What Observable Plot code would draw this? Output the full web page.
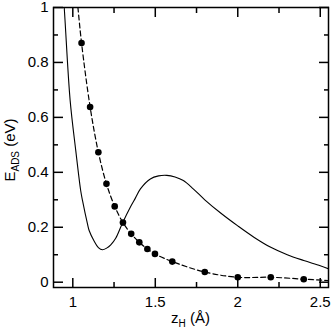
<!DOCTYPE html>
<html><head><meta charset="utf-8">
<script src="https://cdn.jsdelivr.net/npm/d3@7"></script>
<script src="https://cdn.jsdelivr.net/npm/@observablehq/plot@0.6"></script>
<style>body{margin:0;background:#fff}</style>
</head><body><div id="chart"></div>
<script>
// tick values
const xMajor = [1, 1.5, 2, 2.5];
const xMinor = [1.25, 1.75, 2.25];
const yMajor = [0, 0.2, 0.4, 0.6, 0.8, 1];
const yMinor = [0.1, 0.3, 0.5, 0.7, 0.9];

// solid curve (model potential)
const solidX = [0.942, 0.953, 0.984, 1.018, 1.048, 1.059, 1.089, 1.099, 1.129, 1.155, 1.18, 1.205, 1.23, 1.26, 1.30, 1.35, 1.38, 1.41, 1.47, 1.52, 1.57, 1.62, 1.67, 1.73, 1.80, 1.90, 2.00, 2.10, 2.20, 2.30, 2.40, 2.50, 2.55];
const solidY = [1.06, 0.952, 0.661, 0.479, 0.333, 0.297, 0.212, 0.188, 0.150, 0.126, 0.118, 0.124, 0.136, 0.160, 0.214, 0.275, 0.307, 0.340, 0.376, 0.387, 0.389, 0.383, 0.370, 0.340, 0.300, 0.250, 0.205, 0.163, 0.127, 0.100, 0.079, 0.060, 0.049];

// computed points (dots)
const dotX = [1.053, 1.105, 1.155, 1.204, 1.254, 1.304, 1.354, 1.403, 1.452, 1.498, 1.603, 1.80, 2.00, 2.20, 2.40];
const dotY = [0.871, 0.638, 0.473, 0.358, 0.276, 0.217, 0.176, 0.145, 0.121, 0.103, 0.075, 0.037, 0.018, 0.018, 0.011];

// dashed fit extends beyond the first and last dots
const fitStartX = [1.026, 1.031], fitStartY = [1.03, 1.0];
const fitEndX = [2.55], fitEndY = [0.006];

const solid = solidX.map((x, i) => ({x, y: solidY[i]}));
const dots = dotX.map((x, i) => ({x, y: dotY[i]}));
const dashed = [
  ...fitStartX.map((x, i) => ({x, y: fitStartY[i]})),
  ...dots,
  ...fitEndX.map((x, i) => ({x, y: fitEndY[i]}))
];

const fmt = d => String(d);
const none = () => "";

const plot = Plot.plot({
  width: 332, height: 330,
  marginLeft: 53, marginRight: 4, marginTop: 7, marginBottom: 43,
  style: {fontFamily: "'Liberation Sans', Arial, sans-serif", fontSize: "15px", color: "#000", background: "#fff"},
  x: {domain: [0.883, 2.55]},
  y: {domain: [-0.0193, 1]},
  marks: [
    Plot.line(solid, {x: "x", y: "y", curve: "catmull-rom", stroke: "#000", strokeWidth: 1.1, clip: true}),
    Plot.line(dashed, {x: "x", y: "y", curve: "catmull-rom", stroke: "#000", strokeWidth: 1.2, strokeDasharray: "5,3", clip: true}),
    Plot.dot(dots, {x: "x", y: "y", r: 3.3, fill: "#000", stroke: "none"}),
    Plot.axisX(xMajor, {anchor: "bottom", tickSize: -9, tickPadding: 18, tickFormat: fmt, label: null, strokeWidth: 1.5}),
    Plot.axisX(xMinor, {anchor: "bottom", tickSize: -5, tickFormat: none, label: null, strokeWidth: 1.5}),
    Plot.axisX(xMajor, {anchor: "top", tickSize: -9, tickFormat: none, label: null, strokeWidth: 1.5}),
    Plot.axisX(xMinor, {anchor: "top", tickSize: -5, tickFormat: none, label: null, strokeWidth: 1.5}),
    Plot.axisY(yMajor, {anchor: "left", tickSize: -10, tickPadding: 15, tickFormat: fmt, label: null, strokeWidth: 1.5}),
    Plot.axisY(yMinor, {anchor: "left", tickSize: -5, tickFormat: none, label: null, strokeWidth: 1.5}),
    Plot.axisY(yMajor, {anchor: "right", tickSize: -10, tickFormat: none, label: null, strokeWidth: 1.5}),
    Plot.axisY(yMinor, {anchor: "right", tickSize: -5, tickFormat: none, label: null, strokeWidth: 1.5}),
    Plot.frame({stroke: "#000", strokeWidth: 1.5})
  ]
});

const svg = d3.select(plot);
const xr = plot.scale("x").range, yr = plot.scale("y").range;
const cx = (xr[0] + xr[1]) / 2, cy = (yr[0] + yr[1]) / 2;

const xl = svg.append("text")
  .attr("x", cx).attr("y", 323)
  .attr("text-anchor", "middle")
  .style("font-size", "15px").attr("fill", "#000");
xl.append("tspan").text("z");
xl.append("tspan").attr("dy", 4).style("font-size", "10px").text("H");
xl.append("tspan").attr("dy", -4).text(" (Å)");

const yl = svg.append("text")
  .attr("transform", `translate(15,${cy + 3}) rotate(-90)`)
  .attr("text-anchor", "middle")
  .style("font-size", "15px").attr("fill", "#000");
yl.append("tspan").text("E");
yl.append("tspan").attr("dy", 4).style("font-size", "10px").text("ADS");
yl.append("tspan").attr("dy", -4).text(" (eV)");

document.getElementById("chart").append(plot);
</script>
</body></html>
